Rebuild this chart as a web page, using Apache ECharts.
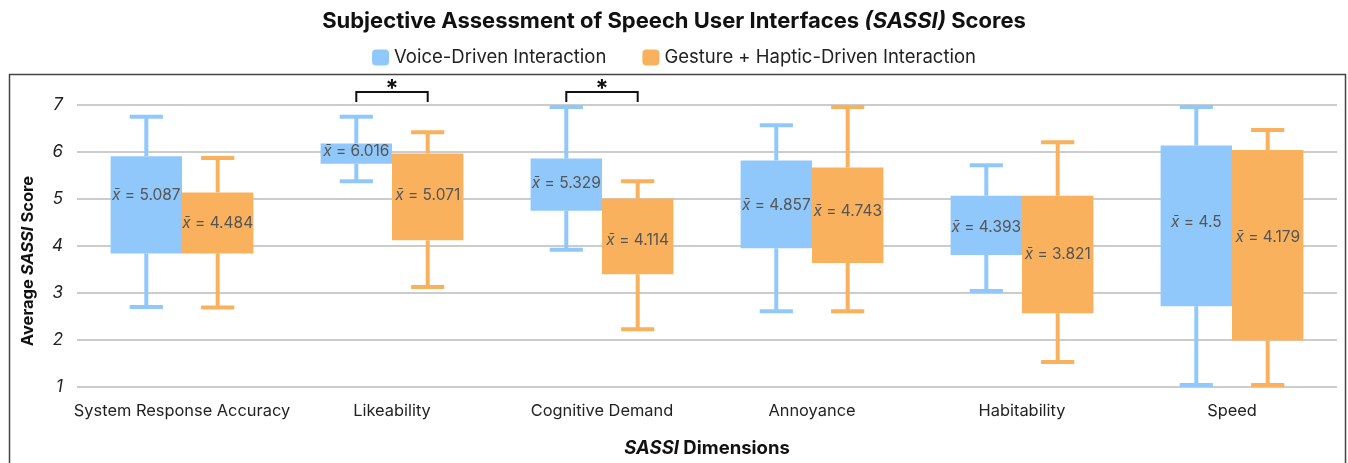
<!DOCTYPE html>
<html>
<head>
<meta charset="utf-8">
<script src="https://cdn.jsdelivr.net/npm/echarts@6/dist/echarts.min.js"></script>
<style>
  html, body { margin: 0; padding: 0; background: #fff; }
  #chart { width: 1348px; height: 463px; }
</style>
</head>
<body>
<div id="chart"></div>
<script>
const categories = ["System Response Accuracy", "Likeability", "Cognitive Demand", "Annoyance", "Habitability", "Speed"];
const yTicks = [1, 2, 3, 4, 5, 6, 7];

// voice-driven: min, lower box edge, upper box edge, max, mean
const voiceMin = [2.70, 5.38, 3.92, 2.61, 3.04, 1.04];
const voiceLow = [3.84, 5.75, 4.75, 3.95, 3.81, 2.72];
const voiceHigh = [5.91, 6.18, 5.86, 5.82, 5.07, 6.14];
const voiceMax = [6.75, 6.75, 6.96, 6.57, 5.72, 6.96];
const voiceMean = [5.087, 6.016, 5.329, 4.857, 4.393, 4.5];

// gesture + haptic
const gestMin = [2.69, 3.13, 2.23, 2.61, 1.53, 1.04];
const gestLow = [3.84, 4.12, 3.40, 3.64, 2.57, 1.99];
const gestHigh = [5.14, 5.97, 5.01, 5.67, 5.07, 6.04];
const gestMax = [5.87, 6.42, 5.38, 6.96, 6.21, 6.47];
const gestMean = [4.484, 5.071, 4.114, 4.743, 3.821, 4.179];

// pairs marked significant
const sigCats = ["Likeability", "Cognitive Demand"];

const blue = "#90c8fc";
const orange = "#f9b15e";
const font = "Inter, 'Noto Sans', sans-serif";

function buildRows(mins, lows, highs, maxs, means) {
  return categories.map((c, i) => [i, mins[i], lows[i], highs[i], maxs[i], means[i]]);
}

function boxRenderer(shift, color) {
  return function (params, api) {
    const i = api.value(0);
    const band = api.size([1, 0])[0];
    const cx = api.coord([i, 1])[0] + shift * band;
    const w = band * 0.34;
    const cap = band * 0.158;
    const yMin = api.coord([i, api.value(1)])[1];
    const yLow = api.coord([i, api.value(2)])[1];
    const yHigh = api.coord([i, api.value(3)])[1];
    const yMax = api.coord([i, api.value(4)])[1];
    const yMean = api.coord([i, api.value(5)])[1];
    const ls = { stroke: color, lineWidth: 4 };
    return {
      type: "group",
      children: [
        { type: "line", shape: { x1: cx, y1: yMax, x2: cx, y2: yHigh }, style: ls },
        { type: "line", shape: { x1: cx, y1: yLow, x2: cx, y2: yMin }, style: ls },
        { type: "line", shape: { x1: cx - cap / 2, y1: yMax, x2: cx + cap / 2, y2: yMax }, style: ls },
        { type: "line", shape: { x1: cx - cap / 2, y1: yMin, x2: cx + cap / 2, y2: yMin }, style: ls },
        { type: "rect", shape: { x: cx - w / 2, y: yHigh, width: w, height: yLow - yHigh }, style: { fill: color } },
        {
          type: "text",
          x: cx, y: yMean,
          style: {
            text: "{x|x\u0304} = " + api.value(5),
            fill: "#555",
            fontSize: 15.5,
            fontFamily: font,
            align: "center",
            verticalAlign: "middle",
            rich: { x: { fontStyle: "italic", fontSize: 15.5, fontFamily: font, fill: "#555" } }
          }
        }
      ]
    };
  };
}

const chart = echarts.init(document.getElementById("chart"));

chart.setOption({
  animation: false,
  title: {
    text: "Subjective Assessment of Speech User Interfaces {i|(SASSI)} Scores",
    left: "center",
    top: 5,
    textStyle: {
      fontFamily: font, fontSize: 22, fontWeight: "bold", color: "#111",
      rich: { i: { fontFamily: font, fontSize: 22, fontWeight: "bold", fontStyle: "italic", color: "#111" } }
    }
  },
  legend: {
    top: 43,
    left: "center",
    itemWidth: 17,
    itemHeight: 16,
    itemGap: 36,
    icon: "roundRect",
    textStyle: { fontFamily: font, fontSize: 18.5, color: "#222" },
    data: ["Voice-Driven Interaction", "Gesture + Haptic-Driven Interaction"]
  },
  graphic: [{
    type: "rect",
    left: 7, top: 72,
    shape: { width: 1336, height: 440 },
    style: { fill: "none", stroke: "#444", lineWidth: 1.5 },
    silent: true
  }],
  grid: { left: 77, right: 11, top: 105, bottom: 76, outerBoundsMode: "none" },
  xAxis: {
    type: "category",
    data: categories,
    axisLine: { show: false },
    axisTick: { show: false },
    axisLabel: { interval: 0, fontFamily: font, fontSize: 16.4, color: "#222", margin: 16 },
    name: "{i|SASSI} Dimensions",
    nameLocation: "middle",
    nameGap: 52,
    nameTextStyle: {
      fontFamily: font, fontSize: 18.5, fontWeight: "bold", color: "#111",
      rich: { i: { fontFamily: font, fontSize: 18.5, fontWeight: "bold", fontStyle: "italic", color: "#111" } }
    }
  },
  yAxis: {
    type: "value",
    min: yTicks[0],
    max: yTicks[yTicks.length - 1],
    interval: 1,
    axisLine: { show: false },
    axisTick: { show: false },
    axisLabel: { fontFamily: font, fontSize: 17, fontStyle: "italic", color: "#222", margin: 14 },
    splitLine: { lineStyle: { color: "#cccccc", width: 2 } },
    name: "Average {i|SASSI} Score",
    nameLocation: "middle",
    nameGap: 40,
    nameTextStyle: {
      fontFamily: font, fontSize: 16.5, fontWeight: "bold", color: "#111",
      padding: [0, 30, 0, 0],
      rich: { i: { fontFamily: font, fontSize: 16.5, fontWeight: "bold", fontStyle: "italic", color: "#111" } }
    }
  },
  series: [
    {
      name: "Voice-Driven Interaction",
      type: "custom",
      itemStyle: { color: blue },
      encode: { x: 0, y: [1, 2, 3, 4] },
      renderItem: boxRenderer(-0.17, blue),
      data: buildRows(voiceMin, voiceLow, voiceHigh, voiceMax, voiceMean)
    },
    {
      name: "Gesture + Haptic-Driven Interaction",
      type: "custom",
      itemStyle: { color: orange },
      encode: { x: 0, y: [1, 2, 3, 4] },
      renderItem: boxRenderer(0.17, orange),
      data: buildRows(gestMin, gestLow, gestHigh, gestMax, gestMean)
    },
    {
      name: "sig",
      type: "custom",
      clip: false,
      silent: true,
      encode: { x: 0, y: 1 },
      renderItem: function (params, api) {
        const i = api.value(0);
        const band = api.size([1, 0])[0];
        const cx = api.coord([i, 7])[0];
        const top = api.coord([i, 7])[1] - 13;
        const l = cx - 0.17 * band, r = cx + 0.17 * band;
        return {
          type: "group",
          children: [
            { type: "polyline", shape: { points: [[l, top + 10], [l, top], [r, top], [r, top + 10]] },
              style: { stroke: "#111", lineWidth: 2, fill: "none" } },
            { type: "text", x: cx, y: top - 2,
              style: { text: "*", fill: "#111", fontSize: 24, fontWeight: "bold", fontFamily: font,
                       align: "center", verticalAlign: "middle" } }
          ]
        };
      },
      data: sigCats.map(c => [categories.indexOf(c), 7])
    }
  ]
});
</script>
</body>
</html>
